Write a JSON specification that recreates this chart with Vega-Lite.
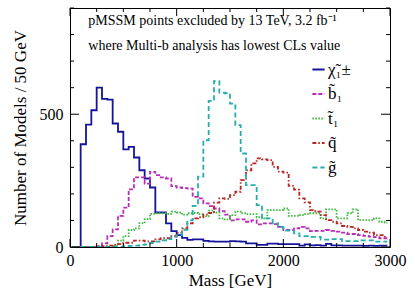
{
 "$schema": "https://vega.github.io/schema/vega-lite/v6.json",
 "width": 320, "height": 239,
 "autosize": {"type": "none"},
 "padding": {"left": 70, "top": 8, "right": 25, "bottom": 51},
 "background": "white",
 "config": {
  "font": "Liberation Serif",
  "view": {"stroke": "#000", "strokeWidth": 1},
  "axis": {"domain": false, "grid": false, "ticks": false, "labelFont": "Liberation Serif", "titleFont": "Liberation Serif", "labelFontSize": 16, "titleFontSize": 17, "titleFontWeight": "normal", "labelColor": "#000", "titleColor": "#000", "labelFlush": false, "labelOverlap": false},
  "tick": {"color": "#000", "thickness": 1, "opacity": 1}
 },
 "datasets": {
  "xmaj": [{"v": 0}, {"v": 1000}, {"v": 2000}, {"v": 3000}],
  "xmin": [{"v": 250}, {"v": 500}, {"v": 750}, {"v": 1250}, {"v": 1500}, {"v": 1750}, {"v": 2250}, {"v": 2500}, {"v": 2750}],
  "ymaj": [{"v": 0}, {"v": 500}],
  "ymin": [{"v": 100}, {"v": 200}, {"v": 300}, {"v": 400}, {"v": 600}, {"v": 700}, {"v": 800}, {"v": 900}],
  "h": [
   {"m":25,"chi":0,"sb":0,"st":0,"sq":0,"gl":0},
   {"m":75,"chi":0,"sb":0,"st":0,"sq":0,"gl":0},
   {"m":125,"chi":387,"sb":0,"st":0,"sq":0,"gl":0},
   {"m":175,"chi":461,"sb":0,"st":0,"sq":0,"gl":0},
   {"m":225,"chi":515,"sb":0,"st":0,"sq":0,"gl":0},
   {"m":275,"chi":600,"sb":3,"st":0,"sq":0,"gl":0},
   {"m":325,"chi":558,"sb":14,"st":0,"sq":3,"gl":0},
   {"m":375,"chi":555,"sb":41,"st":0,"sq":5,"gl":0},
   {"m":425,"chi":465,"sb":66,"st":5,"sq":8,"gl":0},
   {"m":475,"chi":434,"sb":117,"st":24,"sq":11,"gl":0},
   {"m":525,"chi":368,"sb":148,"st":41,"sq":16,"gl":3},
   {"m":575,"chi":377,"sb":217,"st":64,"sq":16,"gl":4},
   {"m":625,"chi":337,"sb":262,"st":70,"sq":24,"gl":5},
   {"m":675,"chi":289,"sb":262,"st":90,"sq":24,"gl":8},
   {"m":725,"chi":258,"sb":239,"st":105,"sq":21,"gl":10},
   {"m":775,"chi":224,"sb":283,"st":125,"sq":21,"gl":15},
   {"m":825,"chi":130,"sb":271,"st":127,"sq":29,"gl":20},
   {"m":875,"chi":130,"sb":262,"st":127,"sq":33,"gl":25},
   {"m":925,"chi":89,"sb":258,"st":125,"sq":33,"gl":30},
   {"m":975,"chi":60,"sb":229,"st":133,"sq":41,"gl":38},
   {"m":1025,"chi":45,"sb":224,"st":130,"sq":53,"gl":45},
   {"m":1075,"chi":34,"sb":222,"st":122,"sq":70,"gl":65},
   {"m":1125,"chi":27,"sb":220,"st":127,"sq":89,"gl":100},
   {"m":1175,"chi":29,"sb":189,"st":128,"sq":108,"gl":155},
   {"m":1225,"chi":29,"sb":183,"st":124,"sq":112,"gl":265},
   {"m":1275,"chi":23,"sb":164,"st":115,"sq":122,"gl":402},
   {"m":1325,"chi":21,"sb":154,"st":137,"sq":128,"gl":550},
   {"m":1375,"chi":20,"sb":145,"st":130,"sq":167,"gl":625},
   {"m":1425,"chi":20,"sb":135,"st":108,"sq":183,"gl":581},
   {"m":1475,"chi":20,"sb":122,"st":104,"sq":181,"gl":579},
   {"m":1525,"chi":22,"sb":100,"st":120,"sq":195,"gl":540},
   {"m":1575,"chi":21,"sb":104,"st":133,"sq":208,"gl":459},
   {"m":1625,"chi":20,"sb":104,"st":127,"sq":252,"gl":352},
   {"m":1675,"chi":14,"sb":95,"st":124,"sq":289,"gl":233},
   {"m":1725,"chi":14,"sb":100,"st":124,"sq":315,"gl":233},
   {"m":1775,"chi":8,"sb":85,"st":112,"sq":334,"gl":158},
   {"m":1825,"chi":8,"sb":89,"st":108,"sq":330,"gl":108},
   {"m":1875,"chi":13,"sb":89,"st":139,"sq":327,"gl":108},
   {"m":1925,"chi":13,"sb":86,"st":139,"sq":302,"gl":89},
   {"m":1975,"chi":11,"sb":76,"st":139,"sq":284,"gl":76},
   {"m":2025,"chi":11,"sb":64,"st":145,"sq":280,"gl":62},
   {"m":2075,"chi":11,"sb":64,"st":117,"sq":230,"gl":62},
   {"m":2125,"chi":11,"sb":70,"st":117,"sq":216,"gl":51},
   {"m":2175,"chi":5,"sb":76,"st":120,"sq":183,"gl":41},
   {"m":2225,"chi":10,"sb":70,"st":124,"sq":168,"gl":41},
   {"m":2275,"chi":6,"sb":60,"st":127,"sq":139,"gl":38},
   {"m":2325,"chi":7,"sb":61,"st":127,"sq":133,"gl":38},
   {"m":2375,"chi":5,"sb":61,"st":108,"sq":120,"gl":28},
   {"m":2425,"chi":12,"sb":64,"st":142,"sq":101,"gl":28},
   {"m":2475,"chi":6,"sb":61,"st":142,"sq":95,"gl":30},
   {"m":2525,"chi":6,"sb":58,"st":108,"sq":89,"gl":30},
   {"m":2575,"chi":5,"sb":54,"st":108,"sq":79,"gl":22},
   {"m":2625,"chi":5,"sb":49,"st":127,"sq":76,"gl":22},
   {"m":2675,"chi":5,"sb":49,"st":142,"sq":70,"gl":22},
   {"m":2725,"chi":5,"sb":45,"st":101,"sq":64,"gl":25},
   {"m":2775,"chi":4,"sb":42,"st":101,"sq":58,"gl":25},
   {"m":2825,"chi":5,"sb":39,"st":101,"sq":54,"gl":25},
   {"m":2875,"chi":4,"sb":37,"st":108,"sq":45,"gl":20},
   {"m":2925,"chi":5,"sb":33,"st":95,"sq":45,"gl":20},
   {"m":2975,"chi":5,"sb":33,"st":92,"sq":39,"gl":20}
  ]
 },
 "layer": [
  {
   "data": {"name": "h"},
   "transform": [{"fold": ["chi", "sb", "st", "sq", "gl"], "as": ["p", "n"]}],
   "mark": {"type": "line", "interpolate": "step", "strokeWidth": 1.8, "clip": true},
   "encoding": {
    "x": {"field": "m", "type": "quantitative", "scale": {"domain": [0, 3000], "nice": false},
     "axis": {"orient": "bottom", "title": "Mass [GeV]", "format": "d", "values": [0, 1000, 2000, 3000], "ticks": false,
      "labelFont": "Liberation Serif", "titleFont": "Liberation Serif", "labelFontSize": 16, "titleFontSize": 17,
      "labelPadding": 5, "titlePadding": 4}},
    "y": {"field": "n", "type": "quantitative", "scale": {"domain": [0, 900], "nice": false},
     "axis": {"orient": "left", "title": "Number of Models / 50 GeV", "format": "d", "values": [0, 500], "ticks": false,
      "labelFont": "Liberation Serif", "titleFont": "Liberation Serif", "labelFontSize": 16, "titleFontSize": 17,
      "labelPadding": 7, "titlePadding": 10}},
    "color": {"field": "p", "type": "nominal",
     "scale": {"domain": ["chi", "sb", "st", "sq", "gl"], "range": ["#14149a", "#b82db8", "#3cb83c", "#b82626", "#26adad"]},
     "legend": {"orient": "none", "legendX": 240, "legendY": 53, "title": null, "symbolType": "stroke", "symbolSize": 150, "symbolStrokeWidth": 2, "labelFont": "Liberation Serif", "labelFontSize": 17, "labelOffset": 1, "rowPadding": 6.5, "padding": 0, "labelColor": "#000",
      "labelExpr": "datum.label == 'chi' ? 'χ̃₁±' : datum.label == 'sb' ? 'b̃₁' : datum.label == 'st' ? 't̃₁' : datum.label == 'sq' ? 'q̃' : 'g̃'"}},
    "strokeDash": {"field": "p", "type": "nominal",
     "scale": {"domain": ["chi", "sb", "st", "sq", "gl"], "range": [[1, 0], [4, 2], [1.5, 1.5], [4, 2, 1.5, 2], [5, 3]]},
     "legend": {"orient": "none", "legendX": 240, "legendY": 53, "title": null, "symbolType": "stroke", "symbolSize": 150, "symbolStrokeWidth": 2, "labelFont": "Liberation Serif", "labelFontSize": 17, "labelOffset": 1, "rowPadding": 6.5, "padding": 0, "labelColor": "#000",
      "labelExpr": "datum.label == 'chi' ? 'χ̃₁±' : datum.label == 'sb' ? 'b̃₁' : datum.label == 'st' ? 't̃₁' : datum.label == 'sq' ? 'q̃' : 'g̃'"}}
   }
  },
  {
   "data": {"name": "xmaj"},
   "mark": {"type": "tick", "orient": "vertical", "size": 8, "thickness": 1, "yOffset": -4, "color": "#000"},
   "encoding": {"x": {"field": "v", "type": "quantitative", "axis": null}, "y": {"datum": 0, "type": "quantitative", "axis": null}}
  },
  {
   "data": {"name": "xmin"},
   "mark": {"type": "tick", "orient": "vertical", "size": 4, "thickness": 1, "yOffset": -2, "color": "#000"},
   "encoding": {"x": {"field": "v", "type": "quantitative", "axis": null}, "y": {"datum": 0, "type": "quantitative", "axis": null}}
  },
  {
   "data": {"name": "xmaj"},
   "mark": {"type": "tick", "orient": "vertical", "size": 8, "thickness": 1, "yOffset": 4, "color": "#000"},
   "encoding": {"x": {"field": "v", "type": "quantitative", "axis": null}, "y": {"datum": 900, "type": "quantitative", "axis": null}}
  },
  {
   "data": {"name": "xmin"},
   "mark": {"type": "tick", "orient": "vertical", "size": 4, "thickness": 1, "yOffset": 2, "color": "#000"},
   "encoding": {"x": {"field": "v", "type": "quantitative", "axis": null}, "y": {"datum": 900, "type": "quantitative", "axis": null}}
  },
  {
   "data": {"name": "ymaj"},
   "mark": {"type": "tick", "orient": "horizontal", "size": 9, "thickness": 1, "xOffset": 4.5, "color": "#000"},
   "encoding": {"y": {"field": "v", "type": "quantitative", "axis": null}, "x": {"datum": 0, "type": "quantitative", "axis": null}}
  },
  {
   "data": {"name": "ymin"},
   "mark": {"type": "tick", "orient": "horizontal", "size": 4, "thickness": 1, "xOffset": 2, "color": "#000"},
   "encoding": {"y": {"field": "v", "type": "quantitative", "axis": null}, "x": {"datum": 0, "type": "quantitative", "axis": null}}
  },
  {
   "data": {"name": "ymaj"},
   "mark": {"type": "tick", "orient": "horizontal", "size": 9, "thickness": 1, "xOffset": -4.5, "color": "#000"},
   "encoding": {"y": {"field": "v", "type": "quantitative", "axis": null}, "x": {"datum": 3000, "type": "quantitative", "axis": null}}
  },
  {
   "data": {"name": "ymin"},
   "mark": {"type": "tick", "orient": "horizontal", "size": 4, "thickness": 1, "xOffset": -2, "color": "#000"},
   "encoding": {"y": {"field": "v", "type": "quantitative", "axis": null}, "x": {"datum": 3000, "type": "quantitative", "axis": null}}
  },
  {
   "data": {"values": [{}]},
   "mark": {"type": "text", "align": "left", "baseline": "alphabetic", "fontSize": 14, "font": "Liberation Serif", "color": "#000"},
   "encoding": {
    "x": {"datum": 172, "type": "quantitative", "axis": null},
    "y": {"datum": 837, "type": "quantitative", "axis": null},
    "text": {"value": "pMSSM points excluded by 13 TeV, 3.2 fb⁻¹"}
   }
  },
  {
   "data": {"values": [{}]},
   "mark": {"type": "text", "align": "left", "baseline": "alphabetic", "fontSize": 14, "font": "Liberation Serif", "color": "#000"},
   "encoding": {
    "x": {"datum": 172, "type": "quantitative", "axis": null},
    "y": {"datum": 743, "type": "quantitative", "axis": null},
    "text": {"value": "where Multi-b analysis has lowest CLs value"}
   }
  }
 ],
 "resolve": {"axis": {"x": "independent", "y": "independent"}}
}
